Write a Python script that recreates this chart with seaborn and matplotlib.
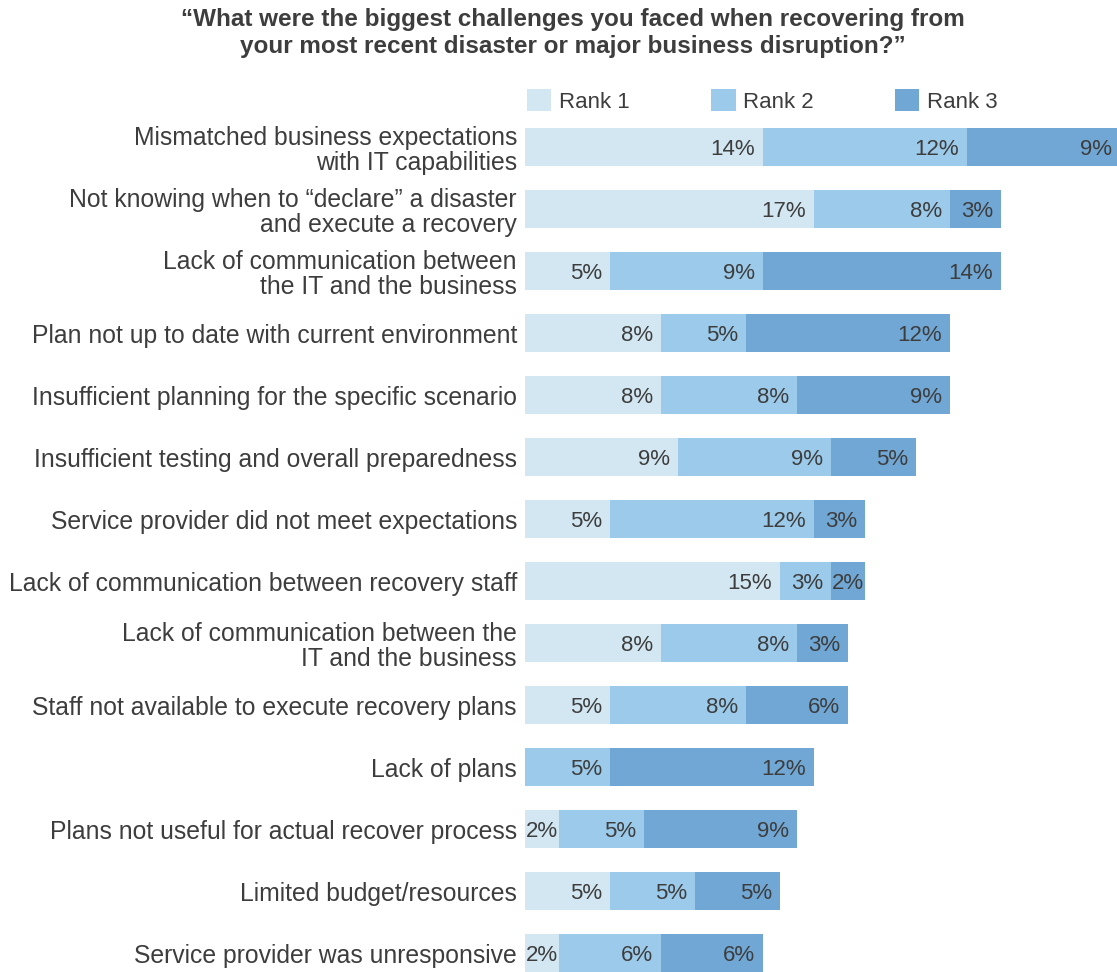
import matplotlib
matplotlib.use("Agg")
import matplotlib.pyplot as plt
import seaborn as sns
import pandas as pd
from matplotlib.patches import Patch

categories = [
    "Mismatched business expectations\nwith IT capabilities",
    "Not knowing when to \u201cdeclare\u201d a disaster\nand execute a recovery",
    "Lack of communication between\nthe IT and the business",
    "Plan not up to date with current environment",
    "Insufficient planning for the specific scenario",
    "Insufficient testing and overall preparedness",
    "Service provider did not meet expectations",
    "Lack of communication between recovery staff",
    "Lack of communication between the\nIT and the business",
    "Staff not available to execute recovery plans",
    "Lack of plans",
    "Plans not useful for actual recover process",
    "Limited budget/resources",
    "Service provider was unresponsive",
]
rank1 = [14, 17, 5, 8, 8, 9, 5, 15, 8, 5, 0, 2, 5, 2]
rank2 = [12, 8, 9, 5, 8, 9, 12, 3, 8, 8, 5, 5, 5, 6]
rank3 = [9, 3, 14, 12, 9, 5, 3, 2, 3, 6, 12, 9, 5, 6]
series_names = ["Rank 1", "Rank 2", "Rank 3"]
colors = ["#d3e7f2", "#9bcaea", "#70a7d5"]
title = ("\u201cWhat were the biggest challenges you faced when recovering from\n"
         "your most recent disaster or major business disruption?\u201d")

TEXT = "#3d3d3d"
FS = 16
CAT_FS = 17.8

df = pd.DataFrame({"category": categories, "r1": rank1, "r2": rank2, "r3": rank3})
df["c1"] = df["r1"]
df["c2"] = df["r1"] + df["r2"]
df["c3"] = df["r1"] + df["r2"] + df["r3"]

plt.rcParams["font.family"] = ["Liberation Sans", "DejaVu Sans"]

fig = plt.figure(figsize=(11.17, 9.72), dpi=100)
ax = fig.add_axes([525 / 1117, 0, 592 / 1117, 856 / 972])

for col, c in zip(["c3", "c2", "c1"], colors[::-1]):
    sns.barplot(data=df, x=col, y="category", color=c, saturation=1,
                width=0.613, linewidth=0, orient="h", ax=ax, errorbar=None)

# segment labels (right-aligned inside each segment; tiny segments left-aligned)
for i, row in df.iterrows():
    segs = [(row["r1"], 0, row["c1"]), (row["r2"], row["c1"], row["c2"]),
            (row["r3"], row["c2"], row["c3"])]
    for val, start, end in segs:
        if val <= 0:
            continue
        if val <= 2:
            ax.annotate(f"{val}%", xy=(start, i), xytext=(0.5, 0),
                        textcoords="offset points", ha="left",
                        va="center_baseline", fontsize=FS, color=TEXT,
                        annotation_clip=False)
        else:
            ax.annotate(f"{val}%", xy=(end, i), xytext=(-6, 0),
                        textcoords="offset points", ha="right",
                        va="center_baseline", fontsize=FS, color=TEXT,
                        annotation_clip=False)

ax.set_xlim(0, 34.8)
ax.set_ylim(13.306, -0.5)
ax.set_xlabel("")
ax.set_ylabel("")
ax.set_xticks([])
for s in ax.spines.values():
    s.set_visible(False)
ax.tick_params(axis="y", length=0, pad=5.8, labelsize=CAT_FS, labelcolor=TEXT)
for t in ax.get_yticklabels():
    t.set_linespacing(1.08)
ax.set_facecolor("none")

handles = [Patch(facecolor=c, edgecolor="none") for c in colors]
fig.legend(handles, series_names, loc="center left",
           bbox_to_anchor=(527 / 1117, 1 - 101 / 972), ncol=3, frameon=False,
           fontsize=FS, labelcolor=TEXT, handlelength=1.1, handleheight=1.1,
           handletextpad=0.35, columnspacing=3.65, borderpad=0, borderaxespad=0)

fig.text(573 / 1117, 1 - 8 / 972, title, ha="center", va="top",
         fontsize=17.5, fontweight="bold", color=TEXT, linespacing=1.2)

fig.savefig("out.png", dpi=100)
